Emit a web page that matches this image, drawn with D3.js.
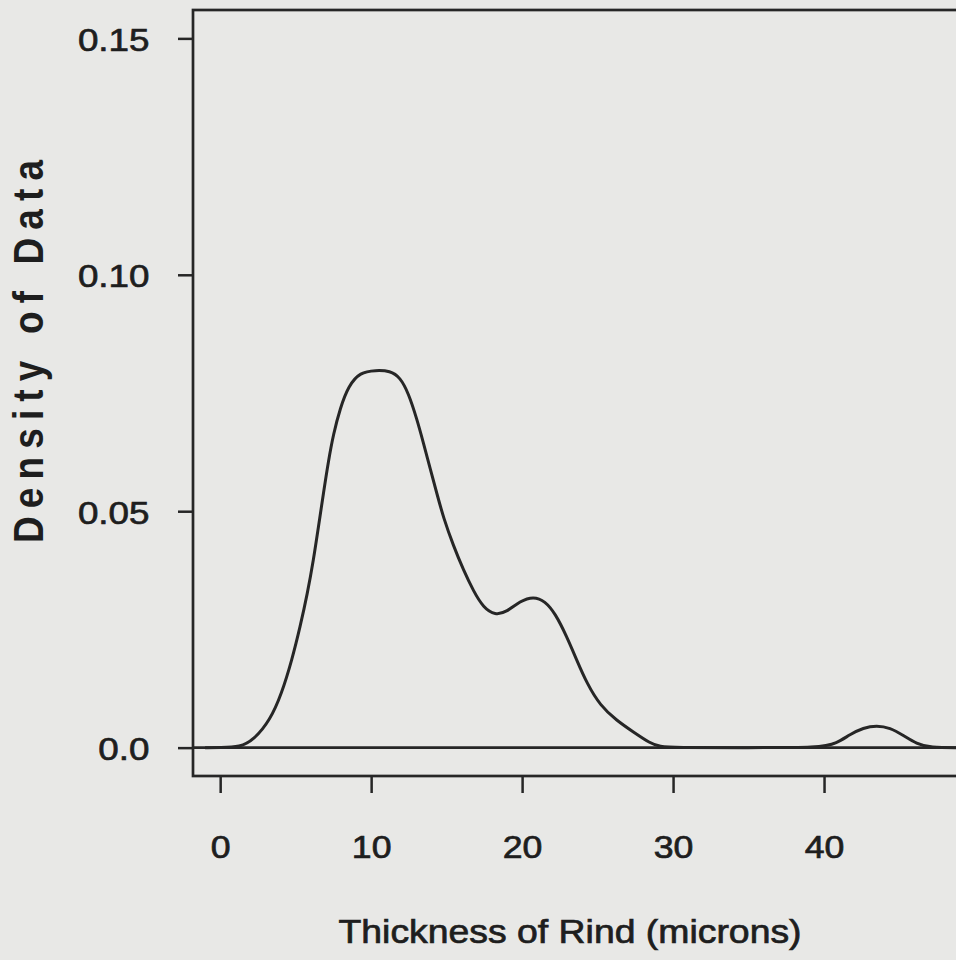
<!DOCTYPE html>
<html>
<head>
<meta charset="utf-8">
<script src="https://cdn.jsdelivr.net/npm/d3@7"></script>
<style>
    body { margin: 0; background: #e8e8e6; }
    svg { display: block; }
    .tick text { font-family: "Liberation Sans", Arial, Helvetica, sans-serif; fill: #1e1e1e; stroke: #1e1e1e; stroke-width: 0.7px; }
</style>
</head>
<body>
<div id="chart"></div>
<script>
// Density curve (thickness in microns, density)
const thickness = [-1, 0, 1.32, 2.21, 3.31, 4.08, 4.75, 5.30, 5.78, 6.18, 6.51, 6.84, 7.17, 7.50, 7.95, 8.50, 9.27,
    10.3, 11.26, 11.92, 12.47, 13.03, 13.46, 13.91, 14.35, 14.79, 15.45, 16.11, 16.78, 17.44, 18.21, 18.99,
    19.87, 20.75, 21.52, 22.19, 22.96, 23.62, 24.29, 25.17, 26.27, 27.37, 28.48, 29.14, 30, 35, 39.74,
    40.84, 41.72, 42.6, 43.49, 44.37, 45.25, 46.14, 47.02, 49];
const density = [0, 0, 0.0001, 0.0016, 0.0058, 0.0115, 0.0185, 0.0256, 0.0326, 0.0397, 0.0467, 0.0538, 0.0606, 0.0663, 0.0718, 0.0765, 0.0794,
    0.0798, 0.0797, 0.0783, 0.0750, 0.0695, 0.0645, 0.0590, 0.0538, 0.0486, 0.0427, 0.0376, 0.0331, 0.0296, 0.0280, 0.0287,
    0.0310, 0.0320, 0.0310, 0.0284, 0.0235, 0.0185, 0.0136, 0.0089, 0.0057, 0.0033, 0.0009, 0.0002, 0, 0, 0,
    0.0009, 0.0028, 0.0042, 0.0047, 0.0042, 0.0026, 0.0008, 0, 0];

const xTicks = [0, 10, 20, 30, 40];
const yTicks = [0, 0.05, 0.10, 0.15];
const yTickLabels = ['0.0', '0.05', '0.10', '0.15'];

const xTitle = 'Thickness of Rind (microns)';
const yTitle = 'Density of Data';

// Layout
const W = 956, H = 960;
const box = { left: 193, top: 10, right: 975, bottom: 776 };
const ink = '#262626';
const stretch = 1.15;   // the scanned lettering is a bit wide

const svg = d3.select('#chart')
    .append('svg')
    .attr('width', W)
    .attr('height', H);

const x = d3.scaleLinear()
    .domain([-1.8, 50])
    .range([box.left, box.right]);

const y = d3.scaleLinear()
    .domain([-0.006, 0.156])
    .range([box.bottom, box.top]);

// Plot frame
svg.append('rect')
    .attr('x', box.left)
    .attr('y', box.top)
    .attr('width', box.right - box.left)
    .attr('height', box.bottom - box.top)
    .attr('fill', 'none')
    .attr('stroke', ink)
    .attr('stroke-width', 2.7);

// Zero reference line
svg.append('line')
    .attr('x1', box.left)
    .attr('x2', box.right)
    .attr('y1', y(0))
    .attr('y2', y(0))
    .attr('stroke', ink)
    .attr('stroke-width', 2.6);

// Axes
const xAxis = svg.append('g')
    .attr('transform', `translate(0,${box.bottom})`)
    .call(d3.axisBottom(x).tickValues(xTicks).tickSize(17).tickSizeOuter(0));

xAxis.select('.domain').remove();
xAxis.selectAll('line').attr('stroke', ink).attr('stroke-width', 2.5);
xAxis.selectAll('text')
    .attr('y', 82)
    .attr('dy', 0)
    .attr('transform', `scale(${stretch},1)`)
    .style('font-size', '31px');

const yAxis = svg.append('g')
    .attr('transform', `translate(${box.left},0)`)
    .call(d3.axisLeft(y).tickValues(yTicks).tickSize(15).tickSizeOuter(0)
        .tickFormat((d, i) => yTickLabels[i]));

yAxis.select('.domain').remove();
yAxis.selectAll('line').attr('stroke', ink).attr('stroke-width', 2.5);
yAxis.selectAll('text')
    .attr('x', -43.5 / stretch)
    .attr('dy', '0.38em')
    .attr('transform', `scale(${stretch},1)`)
    .style('font-size', '32px');

// Density curve
const line = d3.line()
    .x(d => x(d[0]))
    .y(d => y(d[1]))
    .curve(d3.curveBasis);

svg.append('path')
    .datum(thickness.map((t, i) => [t, density[i]]))
    .attr('d', line)
    .attr('fill', 'none')
    .attr('stroke', ink)
    .attr('stroke-width', 3)
    .attr('stroke-linejoin', 'round');

// Axis titles
svg.append('text')
    .attr('transform', `translate(570,943) scale(${stretch},1)`)
    .attr('text-anchor', 'middle')
    .style('font-family', '"Liberation Sans", Arial, Helvetica, sans-serif')
    .style('font-size', '32.5px')
    .style('fill', '#1e1e1e')
    .style('stroke', '#1e1e1e')
    .style('stroke-width', '0.7px')
    .text(xTitle);

svg.append('text')
    .attr('transform', `translate(43,543) rotate(-90) scale(1,${stretch})`)
    .attr('text-anchor', 'start')
    .attr('textLength', 383)
    .attr('lengthAdjust', 'spacing')
    .style('font-family', '"Liberation Sans", Arial, Helvetica, sans-serif')
    .style('font-weight', 'bold')
    .style('font-size', '37px')
    .style('fill', '#1e1e1e')
    .text(yTitle);
</script>
</body>
</html>
